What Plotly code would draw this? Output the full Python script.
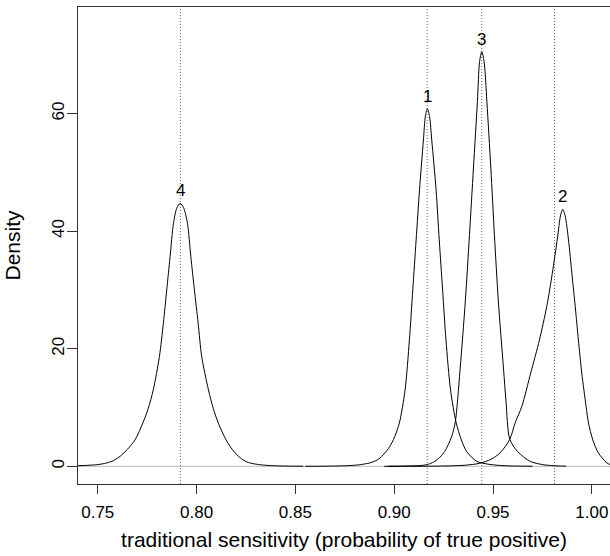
import plotly.graph_objects as go

# ---- data ----
curve_names = ["1", "2", "3", "4"]

x1 = [0.855, 0.865, 0.875, 0.882, 0.8878, 0.8915, 0.8937, 0.8970, 0.8996, 0.9026, 0.9055, 0.9077,
      0.9094, 0.9111, 0.9128, 0.9148, 0.9158, 0.9168, 0.9179, 0.9190, 0.9212, 0.9228, 0.9245, 0.9262,
      0.9285, 0.9313, 0.9340, 0.9367, 0.9418, 0.948, 0.955, 0.962, 0.970]
y1 = [0.01, 0.03, 0.10, 0.25, 0.6, 1.1, 1.7, 3.0, 4.53, 7.36, 13.0, 21.5,
      30.0, 38.5, 47.0, 55.5, 59.6, 60.8, 59.5, 55.5, 47.0, 38.5, 30.0, 21.5,
      13.0, 7.5, 4.5, 2.5, 0.85, 0.35, 0.12, 0.05, 0.02]

x2 = [0.895, 0.905, 0.915, 0.928, 0.936, 0.943, 0.949, 0.9536, 0.9585, 0.9612, 0.9646, 0.9691,
      0.9735, 0.9772, 0.9800, 0.9826, 0.9842, 0.9853, 0.9865, 0.9882, 0.9899, 0.9916, 0.9932,
      0.9949, 0.9971, 0.9983, 1.0005, 1.0033, 1.0076, 1.0100]
y2 = [0.005, 0.01, 0.02, 0.08, 0.2, 0.5, 1.2, 2.3, 4.6, 7.4, 10.2, 15.9,
      21.5, 27.2, 32.8, 38.8, 42.7, 43.7, 42.6, 38.5, 32.8, 27.2, 21.5,
      15.9, 10.2, 7.4, 4.5, 2.3, 0.6, 0.2]

x3 = [0.897, 0.905, 0.9150, 0.9185, 0.9220, 0.9255, 0.9290, 0.9309, 0.9320, 0.9334, 0.9360, 0.9381,
      0.9401, 0.9421, 0.9432, 0.9443, 0.9455, 0.9469, 0.9489, 0.9507, 0.9527, 0.9553, 0.9566,
      0.9585, 0.9625, 0.9688, 0.9750, 0.9810, 0.9870]
y3 = [0.02, 0.05, 0.2, 0.5, 1.2, 2.5, 5.0, 7.5, 11.0, 16.7, 28.1, 39.4,
      50.7, 62.0, 68.8, 70.5, 68.8, 62.0, 50.7, 39.4, 28.1, 16.7, 11.0,
      4.6, 2.5, 0.85, 0.3, 0.1, 0.03]

x4 = [0.7400, 0.7450, 0.7500, 0.7545, 0.7580, 0.7613, 0.7650, 0.7689, 0.7728, 0.7755, 0.7781, 0.7812,
      0.7832, 0.7849, 0.7866, 0.7883, 0.7900, 0.7917, 0.7934, 0.7954, 0.7971, 0.7989, 0.8008,
      0.8026, 0.8060, 0.8085, 0.8110, 0.8149, 0.8180, 0.8212, 0.8240, 0.8271, 0.8320, 0.8380,
      0.8450, 0.8540]
y4 = [0.10, 0.18, 0.30, 0.57, 1.0, 1.71, 2.9, 4.53, 7.36, 9.8, 13.02, 18.68,
      24.34, 30.0, 35.65, 41.3, 43.9, 44.7, 44.0, 41.3, 35.65, 30.0, 24.34,
      18.68, 13.02, 9.8, 7.36, 4.53, 2.9, 1.71, 1.0, 0.57, 0.28, 0.12,
      0.05, 0.02]

# peak positions (for labels) and dotted reference lines
peak_x = [0.9168, 0.9853, 0.9443, 0.7917]
peak_y = [60.8, 43.7, 70.5, 44.7]
vline_x = [0.9167, 0.9811, 0.9443, 0.7918]

x_ticks = [0.75, 0.80, 0.85, 0.90, 0.95, 1.00]
x_tick_labels = ["0.75", "0.80", "0.85", "0.90", "0.95", "1.00"]
y_ticks = [0, 20, 40, 60]
y_tick_labels = ["0", "20", "40", "60"]

x_title = "traditional sensitivity (probability of true positive)"
y_title = "Density"

FONT = "Liberation Sans, Arial, Helvetica, sans-serif"
TICK_SIZE = 17
TITLE_SIZE = 21

fig = go.Figure()

# zero reference line (gray)
fig.add_shape(type="line", xref="paper", yref="y", x0=0, x1=1, y0=0, y1=0,
              line=dict(color="#bebebe", width=1), layer="below")

# dotted vertical lines
for vx in vline_x:
    fig.add_shape(type="line", xref="x", yref="paper", x0=vx, x1=vx, y0=0, y1=1,
                  line=dict(color="#666666", width=1, dash="1px,2px"), layer="below")

for xs, ys in [(x1, y1), (x2, y2), (x3, y3), (x4, y4)]:
    fig.add_trace(go.Scatter(x=xs, y=ys, mode="lines",
                             line=dict(color="black", width=1, shape="spline", smoothing=0.8),
                             showlegend=False, hoverinfo="skip"))

for name, px, py in zip(curve_names, peak_x, peak_y):
    fig.add_annotation(x=px, y=py, text=name, showarrow=False, yanchor="bottom",
                       yshift=1, font=dict(family=FONT, size=TICK_SIZE, color="black"))

fig.update_layout(
    width=610, height=556,
    margin=dict(l=78, r=0, t=7, b=72),
    paper_bgcolor="white", plot_bgcolor="white",
    font=dict(family=FONT, size=TICK_SIZE, color="black"),
    showlegend=False,
)

fig.update_xaxes(
    range=[0.7400, 1.0092], tickvals=x_ticks, ticktext=x_tick_labels,
    showgrid=False, zeroline=False,
    showline=True, linecolor="#333333", linewidth=1, mirror=True,
    ticks="outside", ticklen=9, tickcolor="#333333", ticklabelstandoff=4,
    tickfont=dict(family=FONT, size=TICK_SIZE, color="black"),
    title=dict(text=x_title, font=dict(family=FONT, size=TITLE_SIZE, color="black"), standoff=10),
    automargin=False,
)
fig.update_yaxes(
    range=[-3.0, 78.1], tickvals=y_ticks, ticktext=y_tick_labels,
    showgrid=False, zeroline=False,
    showline=True, linecolor="#333333", linewidth=1, mirror=False,
    ticks="outside", ticklen=10, tickcolor="#333333", tickangle=-90, ticklabelstandoff=-4,
    tickfont=dict(family=FONT, size=TICK_SIZE, color="black"),
    title=dict(text=y_title, font=dict(family=FONT, size=TITLE_SIZE, color="black"), standoff=22),
    automargin=False,
)

fig.write_html("out.html")
